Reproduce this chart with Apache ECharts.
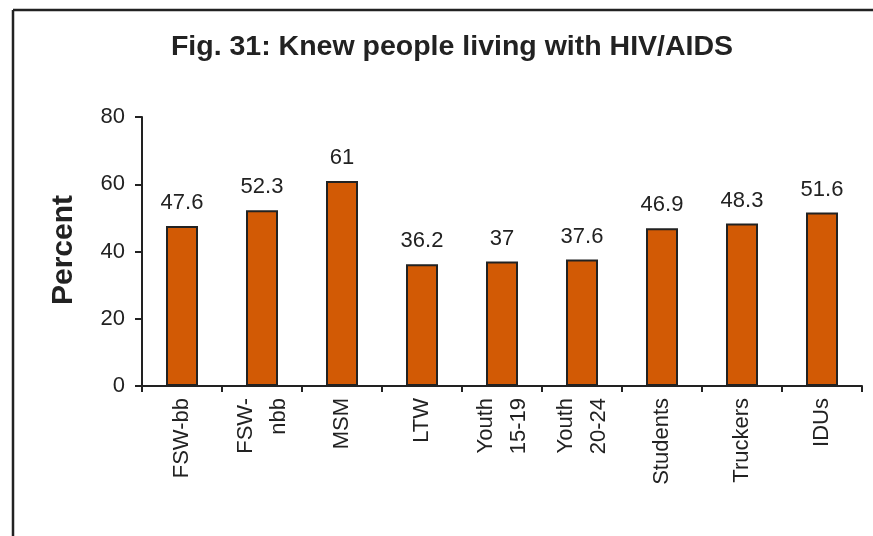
<!DOCTYPE html>
<html>
<head>
<meta charset="utf-8">
<script src="https://cdn.jsdelivr.net/npm/echarts@6/dist/echarts.min.js"></script>
<style>
html,body{margin:0;padding:0;background:#fff;}
#chart{width:873px;height:536px;}
</style>
</head>
<body>
<div id="chart"></div>
<script>
const titleText = 'Fig. 31: Knew people living with HIV/AIDS';
const yAxisName = 'Percent';
const categories = ['FSW-bb', 'FSW-\nnbb', 'MSM', 'LTW', 'Youth\n15-19', 'Youth\n20-24', 'Students', 'Truckers', 'IDUs'];
const values = [47.6, 52.3, 61, 36.2, 37, 37.6, 46.9, 48.3, 51.6];
const yTicks = [0, 20, 40, 60, 80];

const chart = echarts.init(document.getElementById('chart'), null, {renderer: 'canvas'});
const font = 'Liberation Sans, Arial, sans-serif';
chart.setOption({
  backgroundColor: '#fff',
  animation: false,
  title: {
    text: titleText,
    left: 447,
    textAlign: 'center',
    top: 28,
    textStyle: {fontFamily: font, fontSize: 28.5, fontWeight: 'bold', color: '#222'}
  },
  graphic: [
    {type: 'line', shape: {x1: 13, y1: 10, x2: 873, y2: 10}, style: {stroke: '#222', lineWidth: 2.5}},
    {type: 'line', shape: {x1: 13, y1: 10, x2: 13, y2: 536}, style: {stroke: '#222', lineWidth: 2.5}},
    {type: 'text', left: 49, top: 195, rotation: Math.PI / 2,
     style: {text: yAxisName, font: 'bold 30px Liberation Sans, Arial, sans-serif', fill: '#222'}}
  ],
  grid: {left: 142, right: 11, top: 117, bottom: 150, containLabel: false},
  xAxis: {
    type: 'category',
    data: categories,
    axisLine: {lineStyle: {color: '#222', width: 2}},
    axisTick: {show: true, length: 6, lineStyle: {color: '#222', width: 2}},
    axisLabel: {
      rotate: 90, interval: 0, margin: 12,
      fontFamily: font, fontSize: 22, color: '#222', lineHeight: 33
    }
  },
  yAxis: {
    type: 'value',
    min: yTicks[0], max: yTicks[yTicks.length - 1], interval: 20,
    axisLine: {show: true, lineStyle: {color: '#222', width: 2}},
    axisTick: {show: true, length: 7, lineStyle: {color: '#222', width: 2}},
    splitLine: {show: false},
    axisLabel: {margin: 17, fontFamily: font, fontSize: 22, color: '#222'}
  },
  series: [{
    type: 'bar',
    data: values,
    barWidth: 32,
    itemStyle: {color: '#D25A05', borderColor: '#222', borderWidth: 2},
    label: {
      show: true, position: 'top', distance: 12,
      fontFamily: font, fontSize: 22, color: '#222'
    }
  }]
});
</script>
</body>
</html>
